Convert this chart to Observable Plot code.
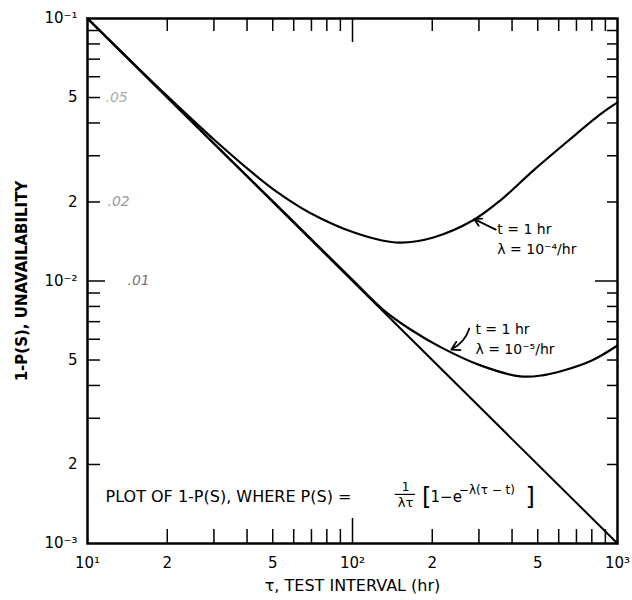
<!DOCTYPE html>
<html><head><meta charset="utf-8">
<script src="https://cdn.jsdelivr.net/npm/d3@7"></script>
<script src="https://cdn.jsdelivr.net/npm/@observablehq/plot@0.6"></script>
<style>body{margin:0;background:#fff;} svg{display:block}</style>
</head><body><div id="chart"></div>
<script>
// straight reference line 1/tau
const baseTau = [10, 1000];
const baseU = [0.1, 0.001];
// t = 1 hr, lambda = 1e-4 /hr
const tau4 = [10, 20, 30, 42, 52, 64, 76, 96, 128, 152, 202, 284, 362, 482, 647, 863, 1000];
const u4 = [0.1, 0.0506, 0.0346, 0.0258, 0.0218, 0.0190, 0.0173, 0.0156, 0.0143, 0.0140, 0.01465, 0.0170, 0.0203, 0.0264, 0.0340, 0.0432, 0.0479];
// t = 1 hr, lambda = 1e-5 /hr
const tau5 = [10, 30, 60, 100, 131, 165, 215, 304, 430, 520, 625, 800, 1000];
const u5 = [0.1, 0.0334, 0.0168, 0.0101, 0.00775, 0.00655, 0.0056, 0.00477, 0.00433, 0.00437, 0.00456, 0.00498, 0.00568];

const xMinorTicks = [20, 30, 40, 50, 60, 70, 80, 90, 200, 300, 400, 500, 600, 700, 800, 900];
const xMajorTicks = [100];
const yMinorTicks = [0.002, 0.003, 0.004, 0.005, 0.006, 0.007, 0.008, 0.009, 0.02, 0.03, 0.04, 0.05, 0.06, 0.07, 0.08, 0.09];
const yMajorTicks = [0.01];
const xTickValues = [10, 20, 50, 100, 200, 500, 1000];
const xTickText = ["10¹", "2", "5", "10²", "2", "5", "10³"];
const yTickValues = [0.1, 0.05, 0.02, 0.01, 0.005, 0.002, 0.001];
const yTickText = ["10⁻¹", "5", "2", "10⁻²", "5", "2", "10⁻³"];
const handValues = [0.05, 0.02, 0.01];
const handText = [".05", ".02", ".01"];

const xTitle = "τ, TEST INTERVAL (hr)";
const yTitle = "1-P(S), UNAVAILABILITY";

// annotations (data coordinates)
const ann4 = {tau: 352, u: 0.01465, text: "t = 1 hr\nλ = 10⁻⁴/hr"};
const arrow4 = {tau1: 347, u1: 0.0157, tau2: 288, u2: 0.0172};
const ann5 = {tau: 291, u: 0.00607, text: "t = 1 hr\nλ = 10⁻⁵/hr"};
const arrow5 = {tau1: 276, u1: 0.00659, tau2: 236, u2: 0.00548};
const formula = {tau: 11.7, u: 0.0015, text: "PLOT OF 1-P(S), WHERE P(S) ="};
const fracNum = {tau: 158.5, u: 0.00164, text: "1"};
const fracDen = {tau: 158.5, u: 0.00143, text: "λτ"};
const fracBar = {tau1: 145, tau2: 173, u: 0.001538};
const bracketOpen = {tau: 183, u: 0.0015, text: "["};
const bracketBody = {tau: 197, u: 0.0015, text: "1−e"};
const bracketSup = {tau: 252, u: 0.00159, text: "−λ(τ − t)"};
const bracketEnd = {tau: 450, u: 0.0015, text: "]"};

const ML = 87, MR = 15, MT = 18, MB = 57, WIDTH = 632, HEIGHT = 600;
const W = WIDTH - ML - MR, H = HEIGHT - MT - MB;
const toRows = (xs, ys) => xs.map((x, i) => ({tau: x, u: ys[i]}));
const font = "DejaVu Sans, sans-serif";
const handDx = [18, 20, 40];
const handFill = ["#aaa", "#999", "#777"];

const chart = Plot.plot({
  width: WIDTH, height: HEIGHT,
  marginLeft: ML, marginRight: MR, marginTop: MT, marginBottom: MB,
  x: {type: "log", domain: [10, 1000], axis: null},
  y: {type: "log", domain: [0.001, 0.1], axis: null},
  style: {fontFamily: font, background: "#fff", color: "#000"},
  marks: [
    // ticks (inward)
    Plot.tickX(xMinorTicks, {x: d => d, insetTop: H - 14, strokeWidth: 1.5}),
    Plot.tickX(xMajorTicks, {x: d => d, insetTop: H - 25, strokeWidth: 1.5}),
    Plot.tickX(xMinorTicks, {x: d => d, insetBottom: H - 13, strokeWidth: 1.5}),
    Plot.tickX(xMajorTicks, {x: d => d, insetBottom: H - 24, strokeWidth: 1.5}),
    Plot.tickY(yMinorTicks, {y: d => d, insetRight: W - 13, strokeWidth: 1.5}),
    Plot.tickY(yMajorTicks, {y: d => d, insetRight: W - 18, strokeWidth: 1.5}),
    Plot.tickY(yMinorTicks, {y: d => d, insetLeft: W - 10, strokeWidth: 1.5}),
    Plot.tickY(yMajorTicks, {y: d => d, insetLeft: W - 22, strokeWidth: 1.5}),
    Plot.frame({stroke: "#000", strokeWidth: 2.5}),
    // curves
    Plot.line(toRows(baseTau, baseU), {x: "tau", y: "u", stroke: "#000", strokeWidth: 2}),
    Plot.line(toRows(tau4, u4), {x: "tau", y: "u", stroke: "#000", strokeWidth: 2.2, curve: "catmull-rom"}),
    Plot.line(toRows(tau5, u5), {x: "tau", y: "u", stroke: "#000", strokeWidth: 2.2, curve: "catmull-rom"}),
    // tick labels
    Plot.text(xTickValues, {x: d => d, text: (d, i) => xTickText[i], frameAnchor: "bottom", dy: 24, fontSize: 15}),
    Plot.text(yTickValues, {y: d => d, text: (d, i) => yTickText[i], frameAnchor: "left", dx: -10, textAnchor: "end", fontSize: 15}),
    // handwritten side notes
    ...handValues.map((v, i) => Plot.text([v], {y: d => d, text: () => handText[i], frameAnchor: "left", textAnchor: "start", fontSize: 14, fontStyle: "italic", fill: handFill[i], dx: handDx[i]})),
    // axis titles
    Plot.text([xTitle], {frameAnchor: "bottom", textAnchor: "middle", dy: 47, fontSize: 16, letterSpacing: 2}),
    Plot.text([yTitle], {frameAnchor: "left", textAnchor: "middle", dx: -65, rotate: -90, fontSize: 15, fontWeight: "bold", letterSpacing: 1.8}),
    // annotations
    Plot.text([ann4], {x: "tau", y: "u", text: "text", textAnchor: "start", fontSize: 14, lineHeight: 1.4}),
    Plot.arrow([arrow4], {x1: "tau1", y1: "u1", x2: "tau2", y2: "u2", strokeWidth: 1.8, headLength: 9}),
    Plot.text([ann5], {x: "tau", y: "u", text: "text", textAnchor: "start", fontSize: 14, lineHeight: 1.4}),
    Plot.arrow([arrow5], {x1: "tau1", y1: "u1", x2: "tau2", y2: "u2", strokeWidth: 1.8, headLength: 9, bend: true}),
    Plot.text([formula], {x: "tau", y: "u", text: "text", textAnchor: "start", fontSize: 16, letterSpacing: 2}),
    Plot.text([fracNum], {x: "tau", y: "u", text: "text", fontSize: 12}),
    Plot.text([fracDen], {x: "tau", y: "u", text: "text", fontSize: 13}),
    Plot.ruleY([fracBar], {x1: "tau1", x2: "tau2", y: "u", strokeWidth: 1.2}),
    Plot.text([bracketOpen], {x: "tau", y: "u", text: "text", textAnchor: "start", fontSize: 24}),
    Plot.text([bracketBody], {x: "tau", y: "u", text: "text", textAnchor: "start", fontSize: 15}),
    Plot.text([bracketSup], {x: "tau", y: "u", text: "text", textAnchor: "start", fontSize: 12}),
    Plot.text([bracketEnd], {x: "tau", y: "u", text: "text", textAnchor: "start", fontSize: 24})
  ]
});
document.getElementById("chart").appendChild(chart);
</script>
</body></html>
